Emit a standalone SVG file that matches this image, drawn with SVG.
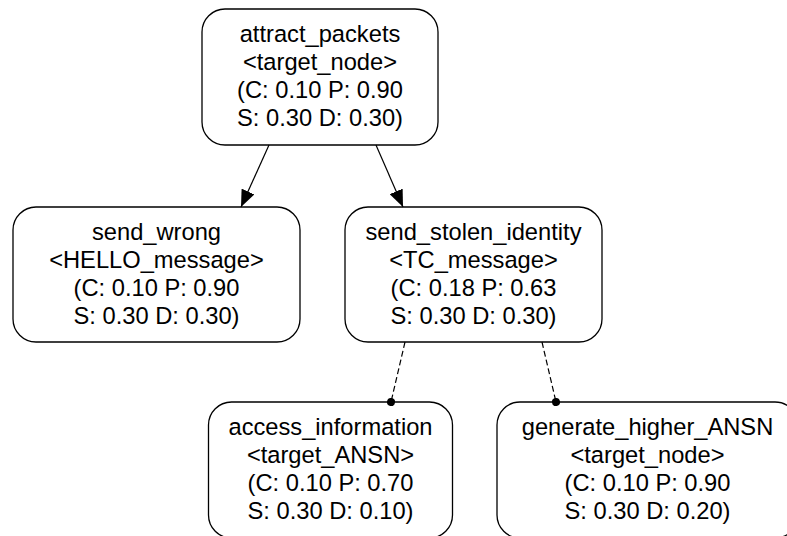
<svg xmlns="http://www.w3.org/2000/svg" width="787" height="536" viewBox="0 0 787 536">
<style>
  .box { fill: #ffffff; stroke: #000000; stroke-width: 1.3; }
  .lbl { font-family: "Liberation Sans", Arial, sans-serif; font-size: 23.7px; fill: #000000; text-anchor: middle; }
  .edge { fill: none; stroke: #000000; stroke-width: 1.2; }
  .dash { stroke-dasharray: 6 3; }
</style>
<defs>
  <marker id="arrow" markerWidth="18" markerHeight="14" refX="17" refY="7" orient="auto" markerUnits="userSpaceOnUse">
    <path d="M0,0 L17,7 L0,14 Z" fill="#000000"/>
  </marker>
  <marker id="dot" markerWidth="10" markerHeight="10" refX="5" refY="5" orient="auto" markerUnits="userSpaceOnUse">
    <circle cx="5" cy="5" r="4" fill="#000000"/>
  </marker>
</defs>
<rect width="787" height="536" fill="#ffffff"/>
<g id="attract_packets">
  <rect class="box" x="202" y="9" width="236" height="136" rx="23" ry="23"/>
  <text class="lbl" x="320" y="41.5">attract_packets</text>
  <text class="lbl" x="320" y="69.8">&lt;target_node&gt;</text>
  <text class="lbl" x="320" y="98.1">(C: 0.10 P: 0.90</text>
  <text class="lbl" x="320" y="126.4">S: 0.30 D: 0.30)</text>
</g>
<g id="send_wrong">
  <rect class="box" x="13" y="207" width="287" height="135" rx="23" ry="23"/>
  <text class="lbl" x="156.5" y="239.5">send_wrong</text>
  <text class="lbl" x="156.5" y="267.8">&lt;HELLO_message&gt;</text>
  <text class="lbl" x="156.5" y="296.1">(C: 0.10 P: 0.90</text>
  <text class="lbl" x="156.5" y="324.4">S: 0.30 D: 0.30)</text>
</g>
<g id="send_stolen_identity">
  <rect class="box" x="345" y="207" width="257" height="135" rx="23" ry="23"/>
  <text class="lbl" x="473.5" y="239.5">send_stolen_identity</text>
  <text class="lbl" x="473.5" y="267.8">&lt;TC_message&gt;</text>
  <text class="lbl" x="473.5" y="296.1">(C: 0.18 P: 0.63</text>
  <text class="lbl" x="473.5" y="324.4">S: 0.30 D: 0.30)</text>
</g>
<g id="access_information">
  <rect class="box" x="208.5" y="402" width="244" height="136" rx="23" ry="23"/>
  <text class="lbl" x="330.5" y="434.5">access_information</text>
  <text class="lbl" x="330.5" y="462.8">&lt;target_ANSN&gt;</text>
  <text class="lbl" x="330.5" y="491.1">(C: 0.10 P: 0.70</text>
  <text class="lbl" x="330.5" y="519.4">S: 0.30 D: 0.10)</text>
</g>
<g id="generate_higher_ANSN">
  <rect class="box" x="497" y="402" width="301" height="136" rx="23" ry="23"/>
  <text class="lbl" x="647.5" y="434.5">generate_higher_ANSN</text>
  <text class="lbl" x="647.5" y="462.8">&lt;target_node&gt;</text>
  <text class="lbl" x="647.5" y="491.1">(C: 0.10 P: 0.90</text>
  <text class="lbl" x="647.5" y="519.4">S: 0.30 D: 0.20)</text>
</g>
<g id="connectors">
  <line class="edge" x1="269" y1="145" x2="241" y2="207" marker-end="url(#arrow)"/>
  <line class="edge" x1="376" y1="145" x2="403" y2="207" marker-end="url(#arrow)"/>
  <line class="edge dash" x1="405" y1="342" x2="391" y2="402" marker-end="url(#dot)"/>
  <line class="edge dash" x1="542" y1="342" x2="556" y2="402" marker-end="url(#dot)"/>
</g>
</svg>
